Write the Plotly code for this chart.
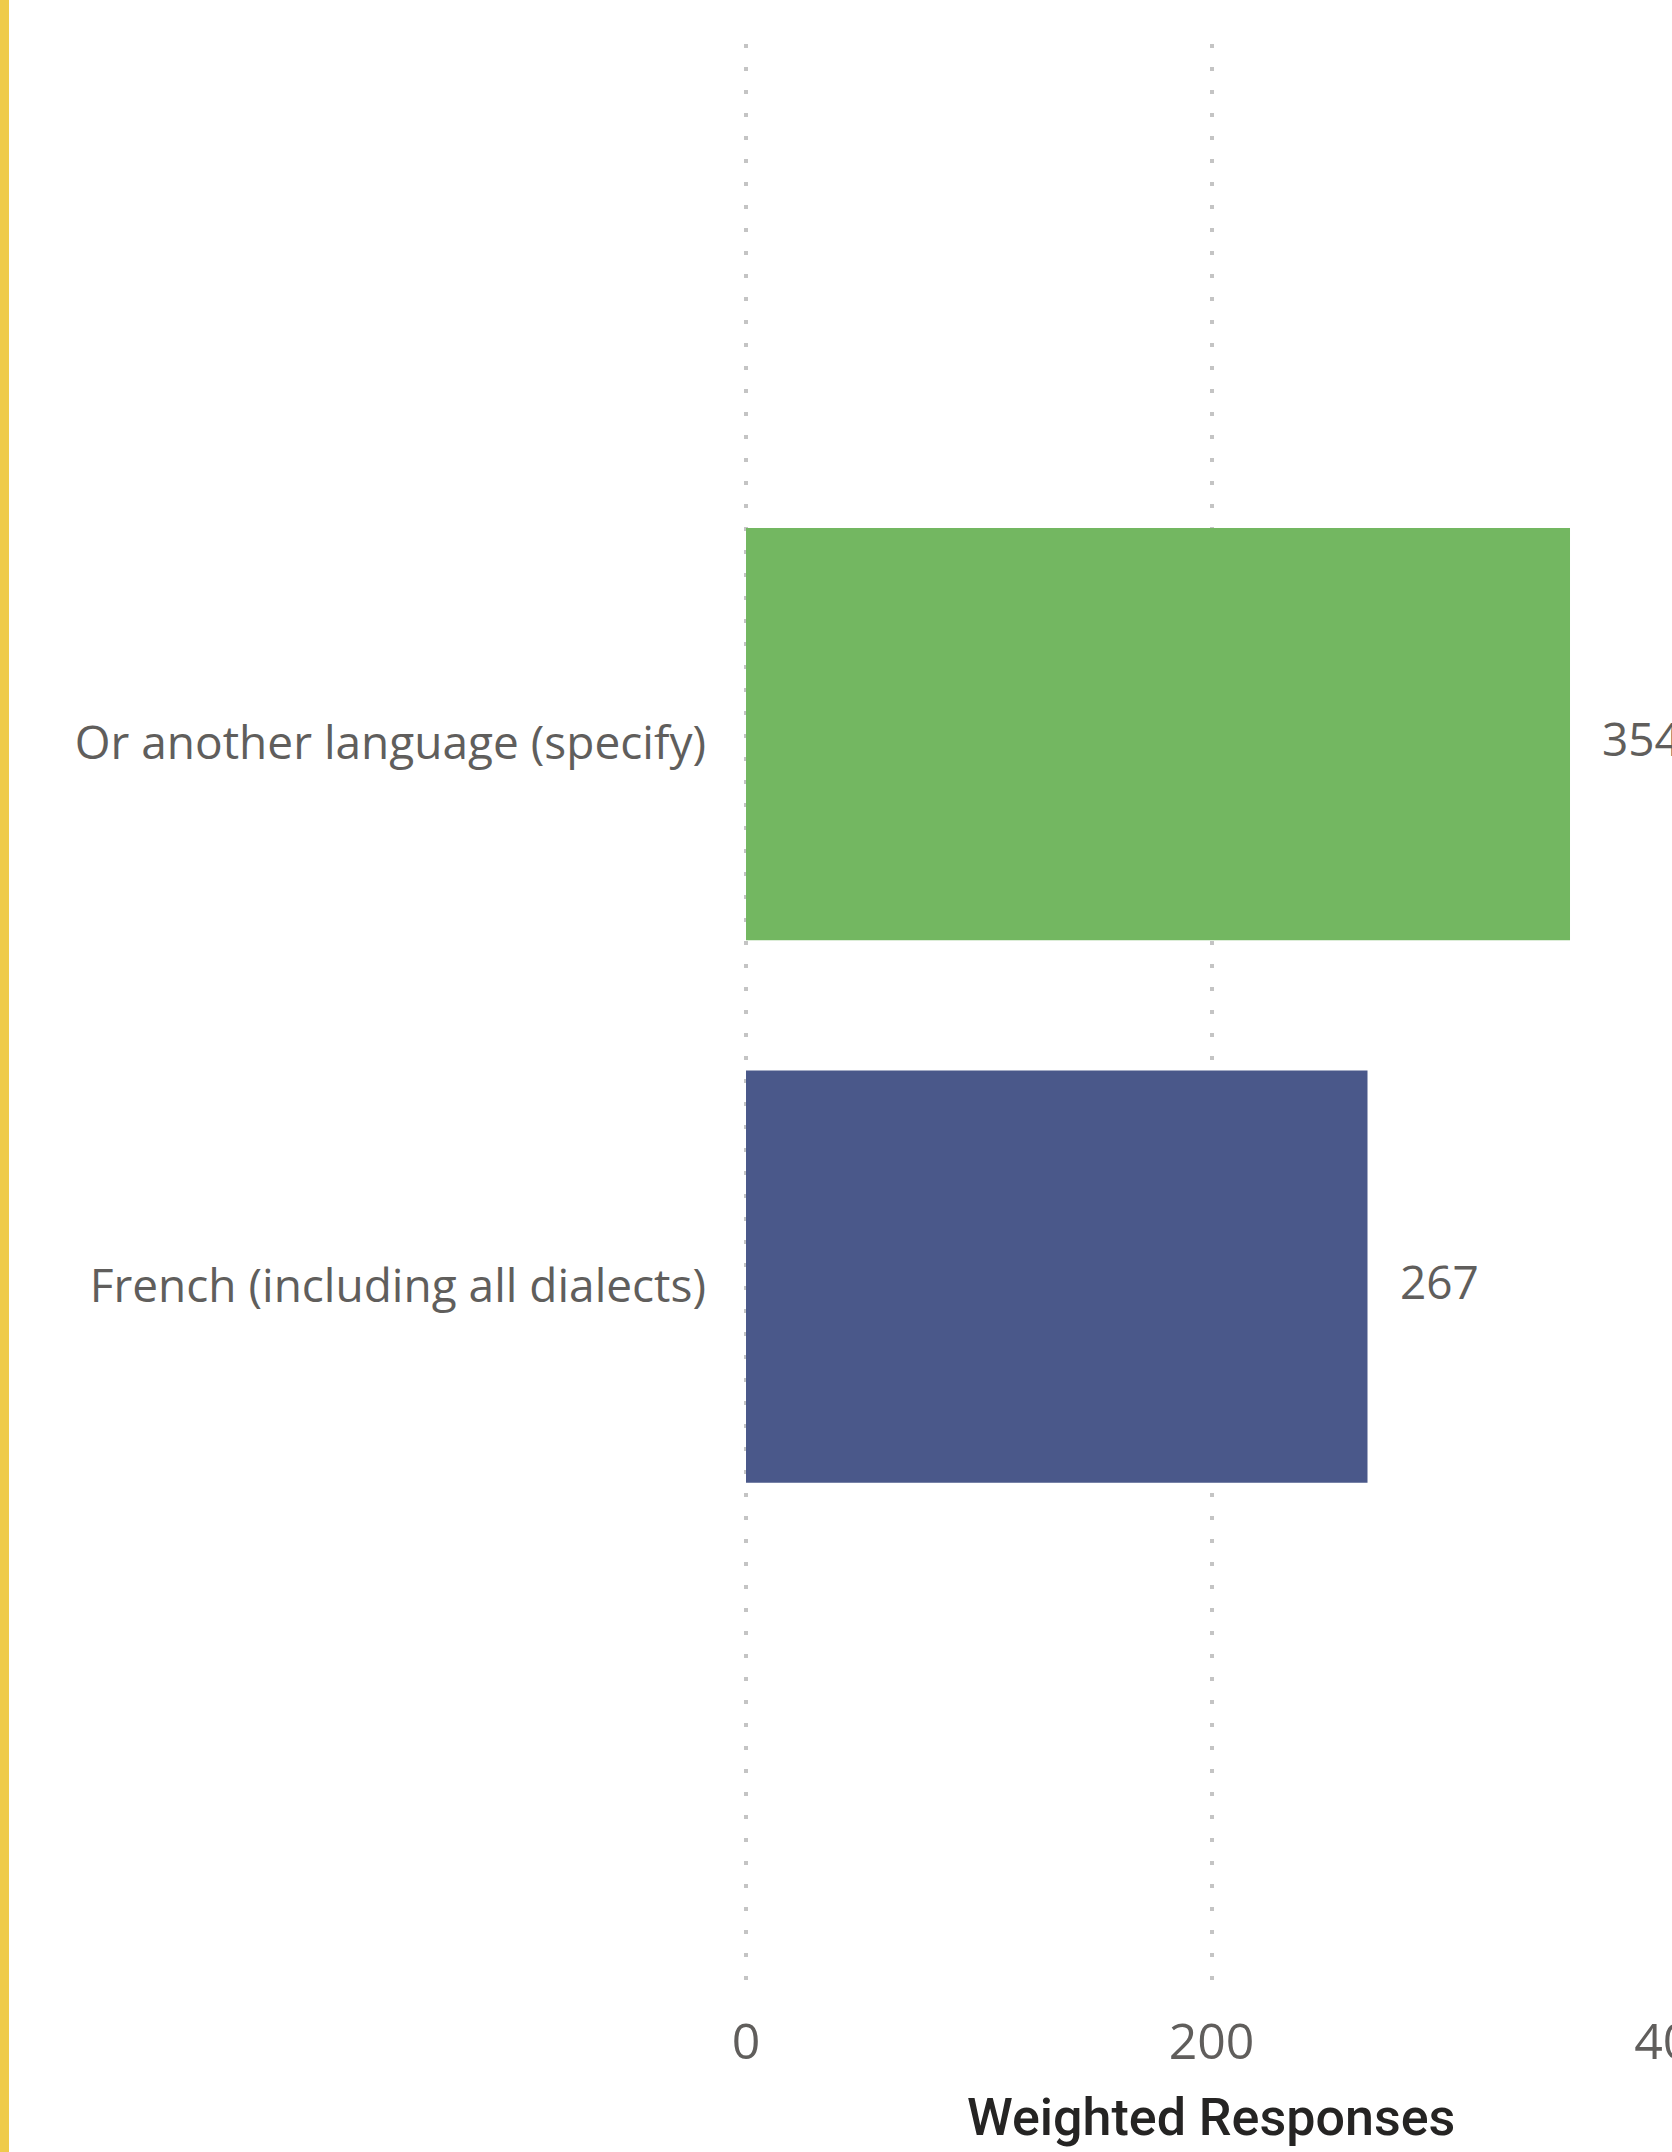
import plotly.graph_objects as go

categories = ["French (including all dialects)", "Or another language (specify)"]
values = [267, 354]
bar_colors = ["#4A588A", "#73B761"]
x_tick_vals = [0, 200, 400]
x_tick_text = ["0", "200", "400"]
x_title = "Weighted Responses"

PX_PER_UNIT = 2.3277
L, T, B = 744, 44, 162
W, H = 1740, 2152
plot_w = W - L
plot_h = H - T - B
x0 = -2 / PX_PER_UNIT

fig = go.Figure()
fig.add_trace(go.Bar(
    x=values, y=categories, orientation="h",
    marker=dict(color=bar_colors, line=dict(width=0)),
    width=0.76, hoverinfo="skip",
))

for c, v in zip(categories, values):
    fig.add_annotation(x=v, y=c, xref="x", yref="y", text=str(v),
                       showarrow=False, xanchor="left", yanchor="middle",
                       xshift=30, yshift=-4,
                       font=dict(family="Open Sans", size=46, color="#605E5C"))

# axis title, centred under the visible part of the axis
fig.add_annotation(x=(1211 - L) / plot_w, y=-(2117 - (H - B)) / plot_h,
                   xref="paper", yref="paper", text=x_title, showarrow=False,
                   xanchor="center", yanchor="middle",
                   font=dict(family="Roboto", size=52, color="#252423", weight=500))

# yellow left border
fig.add_shape(type="rect", xref="paper", yref="paper",
              x0=-L / plot_w, x1=-(L - 9) / plot_w, y0=-B / plot_h - 0.01, y1=1 + T / plot_h + 0.01,
              fillcolor="#EFCB4A", line=dict(width=0), layer="above")

fig.update_layout(
    width=W, height=H,
    margin=dict(l=L, r=0, t=T, b=B, pad=0),
    plot_bgcolor="white", paper_bgcolor="white",
    showlegend=False,
)
fig.update_xaxes(
    range=[x0, x0 + plot_w / PX_PER_UNIT],
    tickvals=x_tick_vals, ticktext=x_tick_text,
    showgrid=True, gridcolor="#C4C4C4", gridwidth=4, griddash="4px,19px",
    zeroline=False, showline=False, ticks="",
    tickfont=dict(family="Open Sans", size=50, color="#605E5C"),
    ticklabelstandoff=18,
)
fig.update_yaxes(
    categoryorder="array", categoryarray=categories,
    range=[-1.315, 2.272],
    showgrid=False, zeroline=False, showline=False, ticks="",
    tickfont=dict(family="Open Sans", size=46, color="#605E5C"),
    ticklabelstandoff=37, ticklabelshift=9,
)

fig.write_html("out.html", config={"displayModeBar": False},
               post_script="document.body.style.margin='0';document.body.style.overflow='hidden';document.documentElement.style.overflow='hidden';")
